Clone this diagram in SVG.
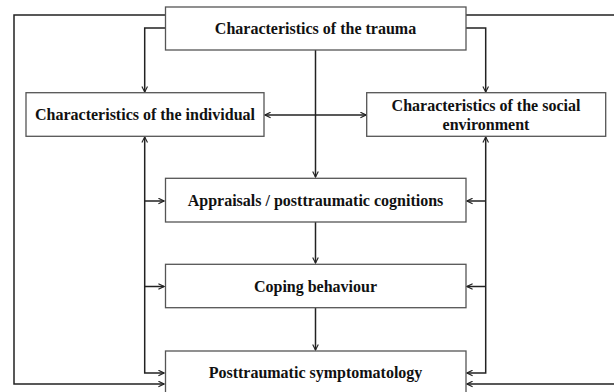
<svg xmlns="http://www.w3.org/2000/svg" width="614" height="392" viewBox="0 0 614 392">
<defs>
<marker id="arr" viewBox="0 0 10 10" refX="9" refY="5" markerWidth="7" markerHeight="7" markerUnits="userSpaceOnUse" orient="auto-start-reverse">
<path d="M1,1 L9,5 L1,9" fill="none" stroke="#222" stroke-width="1.6"/>
</marker>
<style>
.box{fill:#fff;stroke:#555;stroke-width:1.3}
.lbl{font-family:"Liberation Serif","Times New Roman",serif;font-weight:bold;font-size:16px;fill:#111;text-anchor:middle}
.con{fill:none;stroke:#222;stroke-width:1.5}
.con path{marker-end:url(#arr)}
.con path.both{marker-start:url(#arr)}
</style>
</defs>
<rect width="614" height="392" fill="#fff"/>
<g id="connectors" class="con">
<path d="M165,15 H14 V384 H164"/>
<path d="M466,15 H620 V384 H467"/>
<path d="M165,28 H144.7 V92"/>
<path d="M466,28 H485.7 V92"/>
<path d="M315.5,50 V177"/>
<path d="M315.5,222 V263"/>
<path d="M315.5,308 V350"/>
<path class="both" d="M265,115 H366"/>
<path class="both" d="M144.7,137 V373 H164"/>
<path d="M144.7,201 H164"/>
<path d="M144.7,286.5 H164"/>
<path class="both" d="M485.7,137 V373 H467"/>
<path d="M485.7,201 H467"/>
<path d="M485.7,286.5 H467"/>
</g>
<g id="trauma"><rect class="box" x="165.5" y="7" width="300.5" height="43"/><text class="lbl" x="315.5" y="34">Characteristics of the trauma</text></g>
<g id="individual"><rect class="box" x="26" y="92.7" width="238" height="43.6"/><text class="lbl" x="145" y="120">Characteristics of the individual</text></g>
<g id="social"><rect class="box" x="366.7" y="92.7" width="239" height="43.6"/><text class="lbl" x="486" y="111">Characteristics of the social</text><text class="lbl" x="486" y="130">environment</text></g>
<g id="appraisals"><rect class="box" x="165.5" y="178.3" width="300.5" height="43.7"/><text class="lbl" x="315.5" y="206">Appraisals / posttraumatic cognitions</text></g>
<g id="coping"><rect class="box" x="165.5" y="264.3" width="300.5" height="43.4"/><text class="lbl" x="315.5" y="292">Coping behaviour</text></g>
<g id="symptoms"><rect class="box" x="165.5" y="351" width="300.5" height="50"/><text class="lbl" x="315.5" y="378">Posttraumatic symptomatology</text></g>
</svg>
